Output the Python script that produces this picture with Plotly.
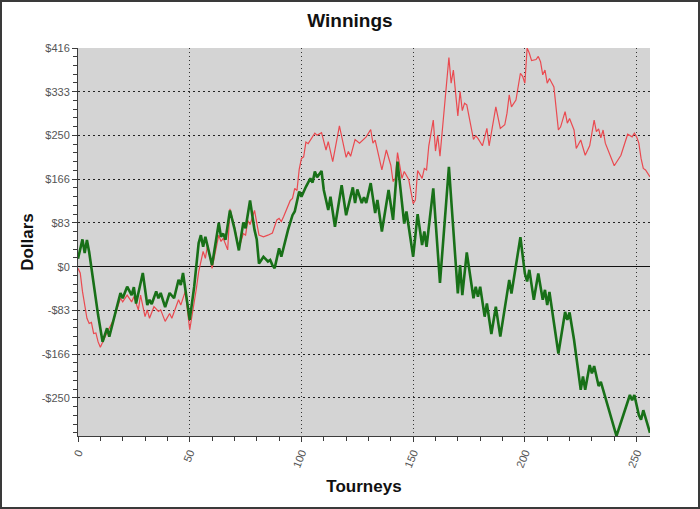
import plotly.graph_objects as go

# ---- data ----
red_x = [0, 1, 2, 3, 4, 5, 6, 7, 8, 9, 10, 13, 16, 19, 20, 22, 24, 25, 27, 28, 30, 31, 32, 34, 36, 37, 39, 41, 42,
         45, 46, 48, 50, 53, 54, 56, 57, 58, 60, 63, 64, 65, 67, 68, 70, 72, 74, 75, 76, 77, 79, 81, 83, 85, 87,
         89, 90, 91, 92, 95, 96, 97, 98, 99, 100, 101, 102, 103, 105, 106, 107, 109, 111, 112, 114, 117, 120,
         121, 122, 124, 126, 128, 129, 131, 132, 133, 136, 138, 140, 141, 142, 143, 145, 146, 148, 150, 151, 152,
         154, 155, 156, 157, 159, 160, 161, 162, 164, 166, 167, 168, 170, 171, 172, 173, 174, 177, 178, 179, 181,
         183, 184, 187, 189, 191, 192, 193, 194, 196, 198, 199, 200, 201, 202, 203, 205, 206, 207, 208, 209, 210,
         211, 213, 215, 216, 218, 219, 220, 222, 223, 225, 227, 229, 231, 232, 233, 234, 235, 236, 240, 243, 246,
         248, 249, 250, 251, 252, 253, 254, 256]
red_y = [-3, -12, -47, -76, -98, -108, -106, -127, -126, -143, -153, -125, -100, -60, -67, -54, -67, -57, -82, -54,
         -95, -82, -98, -76, -85, -82, -104, -89, -98, -63, -73, -47, -120, -41, -10, 29, 16, 41, -3, 60, 48, 54,
         32, 110, 76, 35, 63, 60, 88, 80, 107, 60, 57, 60, 64, 89, 92, 86, 95, 126, 130, 149, 145, 185, 206, 209,
         237, 234, 247, 254, 250, 255, 222, 238, 200, 268, 208, 219, 210, 242, 235, 244, 247, 261, 235, 241, 184,
         222, 193, 162, 168, 217, 168, 181, 166, 120, 127, 183, 168, 187, 184, 230, 279, 220, 250, 210, 311, 398,
         349, 374, 287, 333, 297, 311, 308, 242, 249, 244, 230, 263, 230, 304, 263, 270, 292, 327, 304, 317, 368,
         362, 349, 416, 406, 392, 394, 400, 390, 365, 374, 349, 358, 342, 260, 266, 295, 273, 282, 260, 225, 241,
         212, 230, 279, 257, 262, 245, 260, 235, 192, 212, 252, 247, 254, 247, 235, 206, 187, 184, 171]

green_x = [0, 2, 3, 4, 5, 7, 9, 11, 13, 14, 16, 19, 20, 22, 24, 25, 26, 29, 31, 32, 33, 35, 36, 37, 39, 41, 43,
           45, 46, 47, 50, 52, 54, 55, 56, 57, 60, 63, 64, 65, 66, 68, 70, 72, 74, 75, 77, 79, 80, 81, 83, 85,
           86, 87, 88, 90, 91, 94, 96, 97, 99, 100, 102, 104, 105, 106, 107, 109, 110, 112, 113, 115, 118, 120,
           123, 124, 125, 127, 128, 129, 131, 133, 134, 136, 139, 141, 143, 146, 147, 150, 152, 154, 155, 156,
           159, 162, 166, 170, 171, 172, 174, 177, 178, 179, 180, 182, 183, 185, 187, 189, 193, 194, 198, 200,
           201, 202, 204, 206, 208, 209, 210, 211, 215, 218, 219, 220, 222, 225, 226, 227, 229, 230, 231, 233,
           234, 241, 247, 248, 249, 251, 252, 253, 256]
green_y = [15, 52, 26, 51, 28, -35, -92, -143, -117, -133, -98, -50, -60, -38, -54, -39, -70, -12, -73, -63, -71,
           -47, -60, -50, -77, -50, -60, -25, -35, -12, -101, -38, 45, 60, 38, 57, 3, 83, 57, 63, 51, 107, 73, 31,
           84, 73, 126, 70, 52, 6, 19, 10, 13, 3, -3, 35, 19, 70, 98, 105, 143, 133, 152, 168, 160, 181, 170, 182,
           146, 108, 133, 76, 155, 98, 151, 121, 147, 121, 132, 121, 159, 102, 127, 67, 146, 89, 200, 82, 105, 19,
           100, 41, 67, 38, 149, -31, 190, -51, 3, -54, 27, -60, -38, -57, -38, -95, -70, -128, -76, -133, -25,
           -51, 56, -13, -28, -6, -63, -13, -63, -44, -73, -48, -165, -86, -101, -87, -139, -234, -209, -234,
           -187, -203, -189, -227, -219, -322, -244, -254, -244, -282, -291, -273, -316]

y_tickvals = [-249.6, -166.4, -83.2, 0, 83.2, 166.4, 249.6, 332.8, 416]
y_ticktext = ["-$250", "-$166", "-$83", "$0", "$83", "$166", "$250", "$333", "$416"]
x_tickvals = [0, 50, 100, 150, 200, 250]
x_ticktext = ["0", "50", "100", "150", "200", "250"]

Y_RANGE = [-322, 416]
X_RANGE = [0, 256]

W, H = 700, 509
L, R, T, B = 78, 50, 48, 73
PW, PH = W - L - R, H - T - B

AXC = "#3c3c3c"
FONT = "Liberation Sans, Arial, sans-serif"
TICKFONT = dict(family=FONT, size=11, color="#555555")

fig = go.Figure()
fig.add_trace(go.Scatter(x=red_x, y=red_y, mode="lines", line=dict(color="#ea4a50", width=1.2),
                         showlegend=False, hoverinfo="skip"))
fig.add_trace(go.Scatter(x=green_x, y=green_y, mode="lines", line=dict(color="#187018", width=2.6),
                         showlegend=False, hoverinfo="skip"))

common_y = dict(range=Y_RANGE, tickmode="array", tickvals=y_tickvals, ticktext=y_ticktext,
                ticks="outside", ticklen=5, tickcolor=AXC, tickwidth=1,
                showline=True, linecolor=AXC, linewidth=1, tickfont=TICKFONT,
                minor=dict(tickmode="linear", tick0=0, dtick=16.64, ticklen=4, tickcolor=AXC, ticks="outside",
                           showgrid=False))

fig.update_layout(
    width=W, height=H,
    margin=dict(l=L, r=R, t=T, b=B, autoexpand=False),
    paper_bgcolor="white",
    plot_bgcolor="#d4d4d4",
    title=dict(text="<b>Winnings</b>", x=0.5, xref="container", xanchor="center",
               y=1 - 20 / H, yref="container", yanchor="middle",
               font=dict(family=FONT, size=19, color="#111111")),
    xaxis=dict(range=X_RANGE, tickmode="array", tickvals=x_tickvals, ticktext=x_ticktext,
               tickangle=-68, ticks="outside", ticklen=5, tickcolor=AXC,
               showline=True, linecolor=AXC, linewidth=1, tickfont=TICKFONT,
               showgrid=True, gridcolor="#333333", griddash="1px,3px", gridwidth=1, zeroline=False,
               minor=dict(tickmode="linear", tick0=0, dtick=10, ticklen=4, tickcolor=AXC, ticks="outside",
                          showgrid=False),
               title=dict(text="<b>Tourneys</b>", standoff=11,
                          font=dict(family=FONT, size=17, color="#111111"))),
    xaxis2=dict(range=X_RANGE, overlaying="x", side="top", tickmode="array", tickvals=x_tickvals,
                showticklabels=False, ticks="inside", ticklen=6, tickcolor=AXC, showline=True,
                linecolor=AXC, linewidth=1, showgrid=False, zeroline=False,
                minor=dict(tickmode="linear", tick0=0, dtick=10, ticklen=4, tickcolor=AXC, ticks="inside",
                           showgrid=False)),
    yaxis=dict(**common_y, side="left", showgrid=True, gridcolor="#222222", griddash="2px,3px", gridwidth=1,
               zeroline=True, zerolinecolor="#111111", zerolinewidth=1,
               title=dict(text="<b>Dollars</b>", standoff=3,
                          font=dict(family=FONT, size=17, color="#111111"))),
    yaxis2=dict(**common_y, side="right", overlaying="y", showgrid=False, zeroline=False),
    shapes=[dict(type="rect", xref="paper", yref="paper",
                 x0=(1 - L) / PW, x1=(W - 1 - L) / PW,
                 y0=(T + PH - (H - 1)) / PH, y1=(T + PH - 1) / PH,
                 line=dict(color="#3a3a3a", width=2), fillcolor="rgba(0,0,0,0)", layer="above")],
)

fig.write_html("out.html", config={"displayModeBar": False, "staticPlot": True},
               post_script="document.body.style.margin='0px';document.body.style.overflow='hidden';")
